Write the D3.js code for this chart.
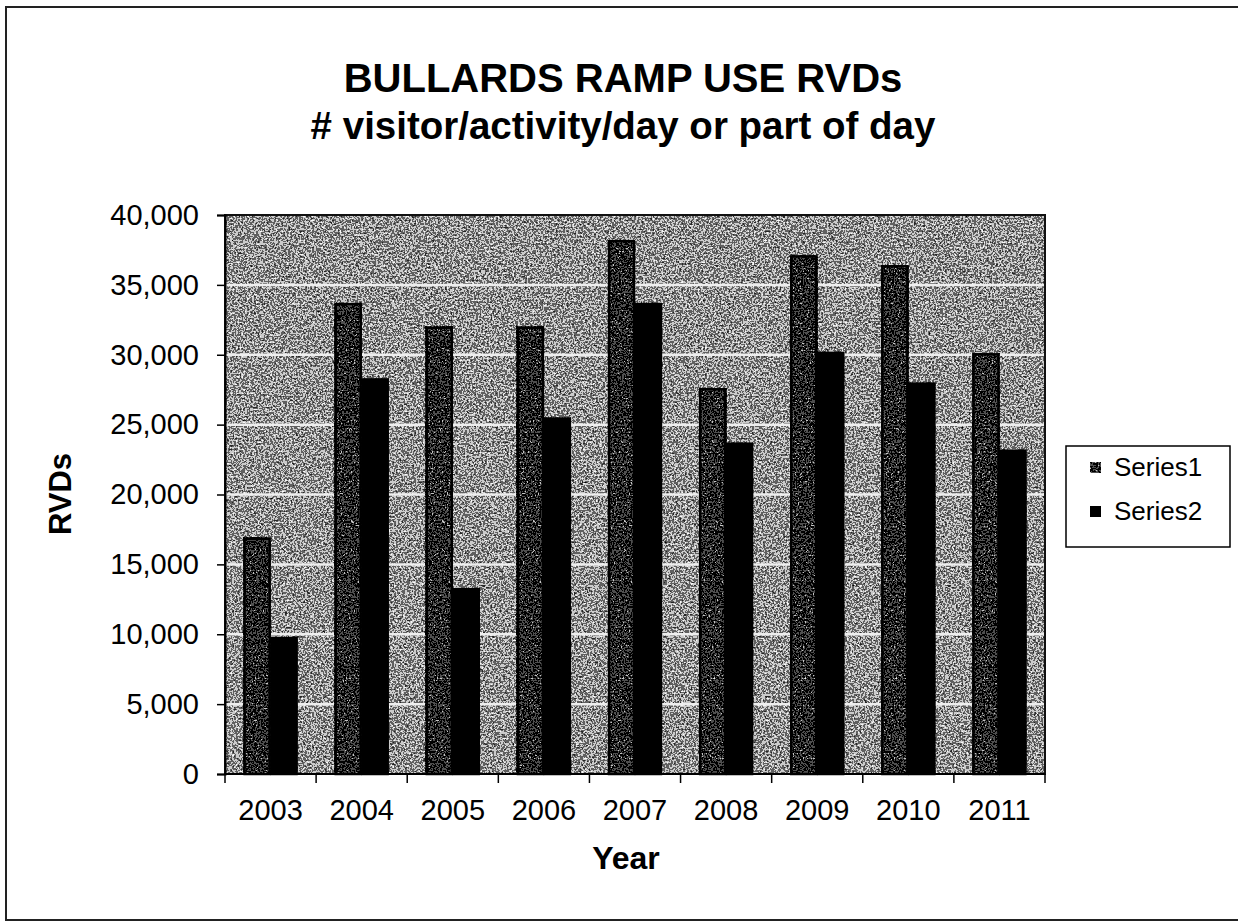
<!DOCTYPE html>
<html>
<head>
<meta charset="utf-8">
<script src="https://cdn.jsdelivr.net/npm/d3@7"></script>
<style>
  body { margin: 0; background: #fff; }
  text { font-family: "Liberation Sans", Arial, sans-serif; fill: #000; }
</style>
</head>
<body>
<svg id="chart" width="1238" height="922"></svg>
<script>
// data
const years = ["2003", "2004", "2005", "2006", "2007", "2008", "2009", "2010", "2011"];
const seriesNames = ["Series1", "Series2"];
const series1 = [16900, 33700, 32000, 32000, 38200, 27600, 37100, 36400, 30100];
const series2 = [9800, 28300, 13300, 25500, 33700, 23700, 30200, 28000, 23200];
const yTicks = [0, 5000, 10000, 15000, 20000, 25000, 30000, 35000, 40000];

const rows = years.map((y, i) => ({ year: y, values: [series1[i], series2[i]] }));

const plot = { left: 225, right: 1045, top: 215, bottom: 774 };

const svg = d3.select("#chart");

// speckled fills, a rough take on the scanned Excel pattern fills
const defs = svg.append("defs");
function speckle(id, table, seed, freq) {
  const f = defs.append("filter").attr("id", id)
    .attr("x", 0).attr("y", 0).attr("width", "100%").attr("height", "100%");
  f.append("feTurbulence")
    .attr("type", "fractalNoise")
    .attr("baseFrequency", freq)
    .attr("numOctaves", 2)
    .attr("seed", seed);
  f.append("feColorMatrix").attr("type", "matrix")
    .attr("values", "0.33 0.33 0.33 0 0  0.33 0.33 0.33 0 0  0.33 0.33 0.33 0 0  0 0 0 0 1");
  const ct = f.append("feComponentTransfer");
  ["feFuncR", "feFuncG", "feFuncB"].forEach(fn =>
    ct.append(fn).attr("type", "discrete").attr("tableValues", table));
}
speckle("bgNoise", "0 0 0.02 0.12 0.6 0.95 1 1", 4, 0.55);
speckle("barNoise", "0 0 0 0 0.08 0.55 0.9 1", 9, 0.6);

// outer chart frame
svg.append("rect")
  .attr("x", 6).attr("y", 7)
  .attr("width", 1250).attr("height", 913)
  .attr("fill", "none")
  .attr("stroke", "#222")
  .attr("stroke-width", 2);

const x0 = d3.scaleBand()
  .domain(years)
  .range([plot.left, plot.right])
  .paddingInner(0)
  .paddingOuter(0);

const x1 = d3.scaleBand()
  .domain(seriesNames)
  .range([0, x0.bandwidth()])
  .paddingInner(0)
  .paddingOuter(0.69);

const yScale = d3.scaleLinear()
  .domain([0, 40000])
  .range([plot.bottom, plot.top]);

// plot background
svg.append("rect")
  .attr("x", plot.left).attr("y", plot.top)
  .attr("width", plot.right - plot.left)
  .attr("height", plot.bottom - plot.top)
  .attr("filter", "url(#bgNoise)");

// gridlines
svg.append("g")
  .selectAll("line")
  .data(yTicks.filter(d => d > 0 && d < 40000))
  .join("line")
  .attr("x1", plot.left).attr("x2", plot.right)
  .attr("y1", d => yScale(d)).attr("y2", d => yScale(d))
  .attr("stroke", "#eeeeee")
  .attr("stroke-width", 2.5);

// bars
const group = svg.append("g")
  .selectAll("g")
  .data(rows)
  .join("g")
  .attr("transform", d => "translate(" + x0(d.year) + ",0)");

group.selectAll("rect")
  .data(d => d.values.map((v, i) => ({ name: seriesNames[i], value: v })))
  .join("rect")
  .attr("x", d => x1(d.name))
  .attr("y", d => yScale(d.value))
  .attr("width", x1.bandwidth())
  .attr("height", d => plot.bottom - yScale(d.value))
  .attr("filter", d => d.name === "Series1" ? "url(#barNoise)" : null)
  .attr("fill", d => d.name === "Series1" ? "#555" : "#000");

// outlines on top of the filtered bars
group.selectAll("rect.outline")
  .data(d => d.values.map((v, i) => ({ name: seriesNames[i], value: v })))
  .join("rect")
  .attr("class", "outline")
  .attr("x", d => x1(d.name) + 1)
  .attr("y", d => yScale(d.value) + 1)
  .attr("width", x1.bandwidth() - 2)
  .attr("height", d => plot.bottom - yScale(d.value) - 1)
  .attr("fill", "none")
  .attr("stroke", "#000")
  .attr("stroke-width", 2.5);

// plot border
svg.append("rect")
  .attr("x", plot.left).attr("y", plot.top)
  .attr("width", plot.right - plot.left)
  .attr("height", plot.bottom - plot.top)
  .attr("fill", "none")
  .attr("stroke", "#111")
  .attr("stroke-width", 2);

// y axis
const yAxis = svg.append("g")
  .attr("transform", "translate(" + plot.left + ",0)")
  .call(d3.axisLeft(yScale)
    .tickValues(yTicks)
    .tickSize(8)
    .tickPadding(18)
    .tickFormat(d3.format(",")));
yAxis.select(".domain").attr("stroke", "#000").attr("stroke-width", 2);
yAxis.selectAll(".tick line").attr("stroke", "#000").attr("stroke-width", 1.5);
yAxis.selectAll("text")
  .attr("font-size", 29)
  .attr("font-family", "'Liberation Sans', Arial, sans-serif");

// x axis: ticks sit between the categories
const xAxis = svg.append("g")
  .attr("transform", "translate(0," + plot.bottom + ")");
xAxis.append("line")
  .attr("x1", plot.left).attr("x2", plot.right)
  .attr("stroke", "#000").attr("stroke-width", 2);
xAxis.selectAll("line.tick")
  .data(years.concat(["end"]))
  .join("line")
  .attr("class", "tick")
  .attr("x1", d => d === "end" ? plot.right : x0(d))
  .attr("x2", d => d === "end" ? plot.right : x0(d))
  .attr("y1", 0).attr("y2", 9)
  .attr("stroke", "#000").attr("stroke-width", 1.5);
xAxis.selectAll("text")
  .data(years)
  .join("text")
  .attr("x", d => x0(d) + x0.bandwidth() / 2)
  .attr("y", 46)
  .attr("text-anchor", "middle")
  .attr("font-size", 29)
  .text(d => d);

// titles
svg.append("text")
  .attr("x", 623).attr("y", 92)
  .attr("text-anchor", "middle")
  .attr("font-size", 40)
  .attr("font-weight", "bold")
  .text("BULLARDS RAMP USE RVDs");
svg.append("text")
  .attr("x", 623).attr("y", 139)
  .attr("text-anchor", "middle")
  .attr("font-size", 38.5)
  .attr("font-weight", "bold")
  .text("# visitor/activity/day or part of day");

svg.append("text")
  .attr("x", 626).attr("y", 869)
  .attr("text-anchor", "middle")
  .attr("font-size", 32)
  .attr("font-weight", "bold")
  .text("Year");

svg.append("text")
  .attr("transform", "translate(71,494) rotate(-90)")
  .attr("text-anchor", "middle")
  .attr("font-size", 31)
  .attr("font-weight", "bold")
  .text("RVDs");

// legend
const legend = svg.append("g");
legend.append("rect")
  .attr("x", 1066).attr("y", 446)
  .attr("width", 164).attr("height", 101)
  .attr("fill", "#fff")
  .attr("stroke", "#000")
  .attr("stroke-width", 1.5);

const item = legend.selectAll("g")
  .data(seriesNames)
  .join("g")
  .attr("transform", (d, i) => "translate(1090," + (462 + i * 44) + ")");
item.append("rect")
  .attr("width", 11).attr("height", 11)
  .attr("fill", d => d === "Series1" ? "#555" : "#000")
  .attr("filter", d => d === "Series1" ? "url(#barNoise)" : null);
item.append("text")
  .attr("x", 24).attr("y", 14)
  .attr("font-size", 26)
  .text(d => d);
</script>
</body>
</html>
